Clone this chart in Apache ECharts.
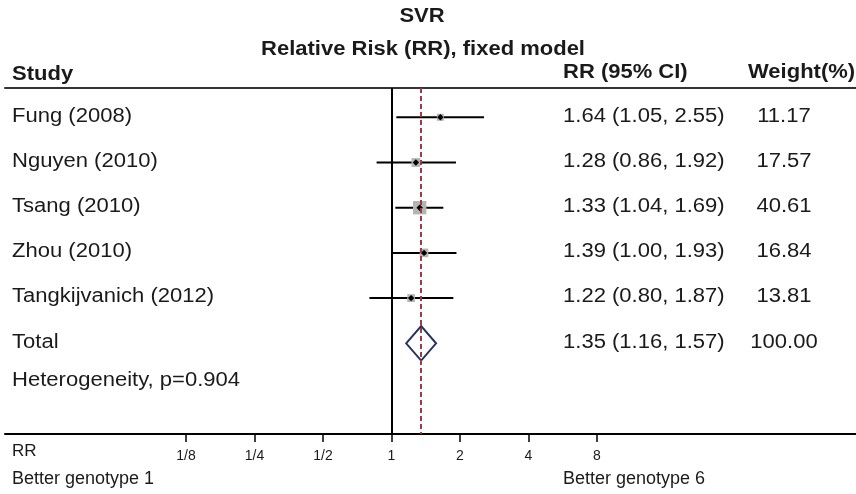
<!DOCTYPE html>
<html><head><meta charset="utf-8">
<script src="https://cdn.jsdelivr.net/npm/echarts@6/dist/echarts.min.js"></script>
<style>html,body{margin:0;padding:0;background:#fff}#c{width:856px;height:494px}</style>
</head><body><div id="c"></div>
<script>
// ---- data ----
const studies = ['Fung (2008)', 'Nguyen (2010)', 'Tsang (2010)', 'Zhou (2010)', 'Tangkijvanich (2012)'];
const rr = [1.64, 1.28, 1.33, 1.39, 1.22];
const lower = [1.05, 0.86, 1.04, 1.00, 0.80];
const upper = [2.55, 1.92, 1.69, 1.93, 1.87];
const weights = [11.17, 17.57, 40.61, 16.84, 13.81];
const totalLabel = 'Total';
const totalRR = 1.35;
const totalLower = 1.16;
const totalUpper = 1.57;
const totalWeight = 100.00;
const tickValues = [0.125, 0.25, 0.5, 1, 2, 4, 8];
const tickLabels = ['1/8', '1/4', '1/2', '1', '2', '4', '8'];
const heterogeneityText = 'Heterogeneity, p=0.904';

// ---- layout / style ----
const FONT = "'Liberation Sans', Arial, sans-serif";
const TXT = '#1a1a1a';
const X_MIN = -5.642, X_MAX = 6.781;   // log2 RR extent of plot
const L2 = v => Math.log2(v);
const ciText = (r, lo, hi) => r.toFixed(2) + ' (' + lo.toFixed(2) + ', ' + hi.toFixed(2) + ')';
const BODY = '19.5px ' + FONT, BODY_SX = 1.13;
const BOLD = 'bold 20px ' + FONT, BOLD_SX = 1.1;
const TXT_DY = -1;

const studyData = studies.map((s, i) => [L2(rr[i]), L2(lower[i]), L2(upper[i]), i, weights[i]]);
const totalData = [[L2(totalRR), L2(totalLower), L2(totalUpper), studies.length, totalWeight]];

function txt(text, x, y, font, sx, align) {
  return {type: 'text', x: x, y: y, scaleX: sx,
    style: {text: text, x: 0, y: 0, fill: TXT, font: font, align: align || 'left', verticalAlign: 'middle'}};
}
function rowTexts(name, ci, w, y) {
  return [
    txt(name, 12, y + TXT_DY, BODY, BODY_SX),
    txt(ci, 563, y + TXT_DY, BODY, BODY_SX),
    txt(w, 784, y + TXT_DY, BODY, BODY_SX, 'center')
  ];
}

const chart = echarts.init(document.getElementById('c'), null, {renderer: 'canvas'});
chart.setOption({
  animation: false,
  backgroundColor: '#fff',
  grid: {left: 5, right: 0, top: 88, bottom: 60},
  xAxis: [{
    type: 'value', min: X_MIN, max: X_MAX, position: 'bottom',
    axisLine: {onZero: false, lineStyle: {color: '#000', width: 2}},
    axisTick: {show: true, customValues: tickValues.map(L2), length: 8, lineStyle: {color: '#000', width: 1.5}},
    axisLabel: {customValues: tickValues.map(L2), margin: 15, fontSize: 14, color: TXT, fontFamily: FONT,
      formatter: v => { const k = tickValues.findIndex(t => Math.abs(L2(t) - v) < 1e-6); return k >= 0 ? tickLabels[k] : ''; }},
    splitLine: {show: false}
  }, {
    type: 'value', min: X_MIN, max: X_MAX, position: 'top',
    axisLine: {onZero: false, lineStyle: {color: '#3a3232', width: 2}},
    axisTick: {show: false}, axisLabel: {show: false}, splitLine: {show: false}
  }],
  yAxis: {type: 'value', inverse: true, min: -0.648, max: 7.007, show: false},
  graphic: [
    txt('SVR', 422, 16, BOLD, BOLD_SX, 'center'),
    txt('Relative Risk (RR), fixed model', 423, 49, BOLD, BOLD_SX, 'center'),
    txt('Study', 12, 74, BOLD, BOLD_SX),
    txt('RR (95% CI)', 563, 72.5, BOLD, BOLD_SX),
    txt('Weight(%)', 748, 72.5, BOLD, BOLD_SX),
    txt(heterogeneityText, 12, 381, BODY, BODY_SX),
    txt('RR', 12, 451, '17px ' + FONT, 1.0),
    txt('Better genotype 1', 12, 479.5, '18px ' + FONT, 1.0),
    txt('Better genotype 6', 563, 479.5, '18px ' + FONT, 1.0)
  ],
  series: [{
    type: 'custom', name: 'studies', clip: false,
    encode: {x: [0, 1, 2], y: 3},
    data: studyData,
    renderItem: (params, api) => {
      const i = params.dataIndex;
      const c = api.coord([api.value(0), api.value(3)]);
      const lo = api.coord([api.value(1), api.value(3)]);
      const hi = api.coord([api.value(2), api.value(3)]);
      const s = 2.1 * Math.sqrt(api.value(4));
      const d = 3.2;
      return {type: 'group', children: [
        {type: 'line', shape: {x1: lo[0], y1: lo[1], x2: hi[0], y2: hi[1]}, style: {stroke: '#000', lineWidth: 2}},
        {type: 'rect', shape: {x: c[0] - s / 2, y: c[1] - s / 2, width: s, height: s}, style: {fill: '#b4b4b4'}},
        {type: 'polygon', shape: {points: [[c[0] - d, c[1]], [c[0], c[1] - d], [c[0] + d, c[1]], [c[0], c[1] + d]]}, style: {fill: '#000'}}
      ].concat(rowTexts(studies[i], ciText(rr[i], lower[i], upper[i]), weights[i].toFixed(2), c[1]))};
    },
    markLine: {
      silent: true, symbol: 'none', label: {show: false}, animation: false,
      data: [
        {xAxis: 0, lineStyle: {color: '#000', width: 2, type: 'solid'}},
        {xAxis: L2(totalRR), lineStyle: {color: '#a13a45', width: 2, type: [5, 3]}}
      ]
    },
    z: 3
  }, {
    type: 'custom', name: 'total', clip: false,
    encode: {x: [0, 1, 2], y: 3},
    data: totalData,
    renderItem: (params, api) => {
      const c = api.coord([api.value(0), api.value(3)]);
      const lo = api.coord([api.value(1), api.value(3)]);
      const hi = api.coord([api.value(2), api.value(3)]);
      const h = 17.3;
      return {type: 'group', children: [
        {type: 'polygon', shape: {points: [[lo[0], c[1]], [c[0], c[1] - h], [hi[0], c[1]], [c[0], c[1] + h]]},
          style: {fill: '#fff', stroke: '#27335f', lineWidth: 2}}
      ].concat(rowTexts(totalLabel, ciText(totalRR, totalLower, totalUpper), totalWeight.toFixed(2), c[1]))};
    },
    z: 4
  }]
});
</script></body></html>
